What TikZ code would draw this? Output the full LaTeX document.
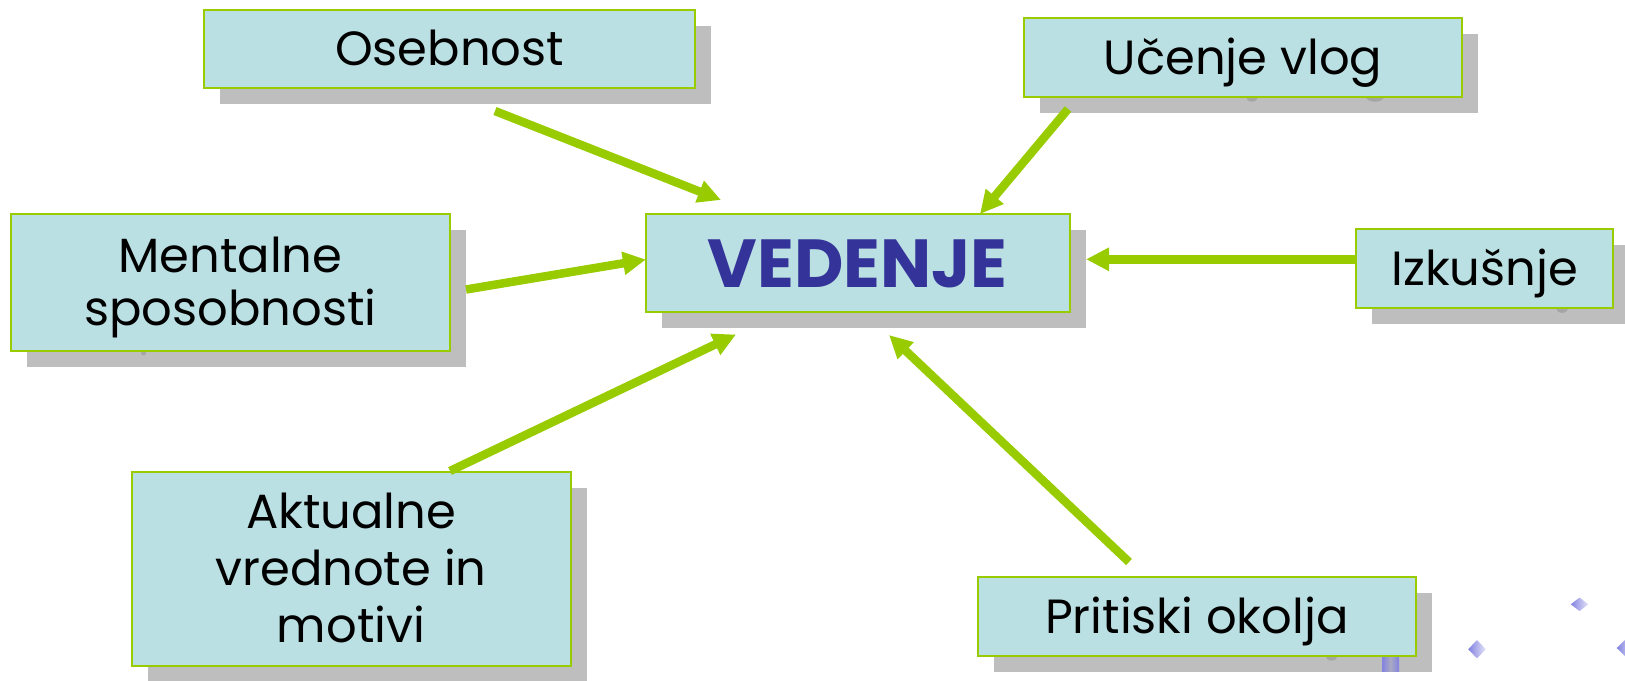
\documentclass[tikz,border=0pt]{standalone}
\usepackage{fontspec}
\setmainfont{Poppins}
\usetikzlibrary{arrows.meta,calc}
\definecolor{boxfill}{RGB}{187,224,227}
\definecolor{boxline}{RGB}{153,204,0}
\definecolor{arrowgreen}{RGB}{153,204,0}
\definecolor{shadowgray}{RGB}{190,190,190}
\definecolor{nubgray}{RGB}{165,165,165}
\definecolor{titleblue}{RGB}{51,51,153}
\definecolor{gemdark}{RGB}{130,130,225}
\definecolor{gemlight}{RGB}{228,228,248}
\definecolor{bargray}{RGB}{170,170,195}
\pgfdeclarelayer{shade}
\pgfdeclarelayer{nub}
\pgfsetlayers{shade,nub,main}
\begin{document}
\begin{tikzpicture}[x=1pt,y=-1pt,
  box/.style={draw=boxline,line width=2pt,fill=boxfill,inner sep=0pt,outer sep=0pt,
    font=\fontsize{48}{53}\selectfont,text height=33.6pt,text depth=0pt},
  link/.style={draw=arrowgreen,line width=8.5pt,-{Triangle[length=23pt,width=22pt]}},
  nubdot/.style={fill=nubgray},
  shadowfill/.style={fill=shadowgray},
  gem/.style={left color=gemdark,right color=gemlight},
]
\useasboundingbox (0,0) rectangle (1625,680);

% boxes
\node[box,minimum width=491pt,minimum height=78pt] (oseb) at (449.5,48.5) {Osebnost};
\node[box,minimum width=438pt,minimum height=79pt] (ucen) at (1243,57.2) {Učenje vlog};
\node[box,minimum width=424pt,minimum height=98pt,
      font=\fontsize{68}{72}\selectfont\bfseries,text=titleblue,text height=47.6pt] (ved) at (857.6,263.4) {VEDENJE};
\node[box,minimum width=257pt,minimum height=79pt] (izk) at (1484.7,268.8) {Izkušnje};
\node[box,minimum width=439.5pt,minimum height=137pt,text depth=53pt] (ment) at (230.3,282.5)
  {\begin{tabular}[t]{@{}c@{}}Mentalne\\sposobnosti\end{tabular}};
\node[box,minimum width=439pt,minimum height=194pt,font=\fontsize{48}{57}\selectfont,text depth=114pt] (akt) at (351,568.9)
  {\begin{tabular}[t]{@{}c@{}}Aktualne\\vrednote in\\motivi\end{tabular}};
\node[box,minimum width=438.5pt,minimum height=78.7pt] (prit) at (1196.8,616.7) {Pritiski okolja};

% drop shadows
\begin{pgfonlayer}{shade}
  \foreach \n in {oseb,ucen,ved,izk,ment,akt,prit}
    \fill[shadowfill] ($(\n.south west)+(16,16)$) rectangle ($(\n.north east)+(16,16)$);
\end{pgfonlayer}

% small knobs peeking out under some boxes, and the ornaments at the lower right
\begin{pgfonlayer}{nub}
  \fill[nubdot] ($(ment.south west)+(133,2)$) circle (2.5);
  \fill[nubdot] ($(ucen.south west)+(228,0)$) ellipse (6 and 5);
  \fill[nubdot] ($(ucen.south west)+(351,0)$) ellipse (9 and 5);
  \fill[nubdot] ($(izk.south west)+(206,0)$) ellipse (6 and 4.5);
  \fill[nubdot] ($(prit.south west)+(354,0)$) ellipse (6 and 4.5);
  \shade[left color=gemdark,right color=gemdark,middle color=bargray] (1382,657) rectangle (1399,671);
\end{pgfonlayer}
\shade[gem] (1468.2,649.2) -- (1477,640) -- (1485.8,649.2) -- (1477,658.4) -- cycle;
\shade[gem] (1570.7,604.3) -- (1579.5,597.6) -- (1588.3,604.3) -- (1579.5,611) -- cycle;
\shade[gem] (1616.7,648) -- (1625.5,639.5) -- (1634.3,648) -- (1625.5,656.5) -- cycle;

% arrow end points
\coordinate (o1) at (495,111);    \coordinate (o2) at (721,200);
\coordinate (m1) at (466,289.5);  \coordinate (m2) at (646,259.5);
\coordinate (a1) at (450,471);    \coordinate (a2) at (736,334.5);
\coordinate (u1) at (1068,109);   \coordinate (u2) at (980,214);
\coordinate (i2) at (1086,259.3);
\coordinate (p1) at (1129,562);   \coordinate (p2) at (889,335);

% influences on behaviour
\draw[link] (o1) -- (o2);
\draw[link] (m1) -- (m2);
\draw[link] (a1) -- (a2);
\draw[link] (u1) -- (u2);
\draw[link] (izk.west |- i2) -- (i2);
\draw[link] (p1) -- (p2);
\end{tikzpicture}
\end{document}
